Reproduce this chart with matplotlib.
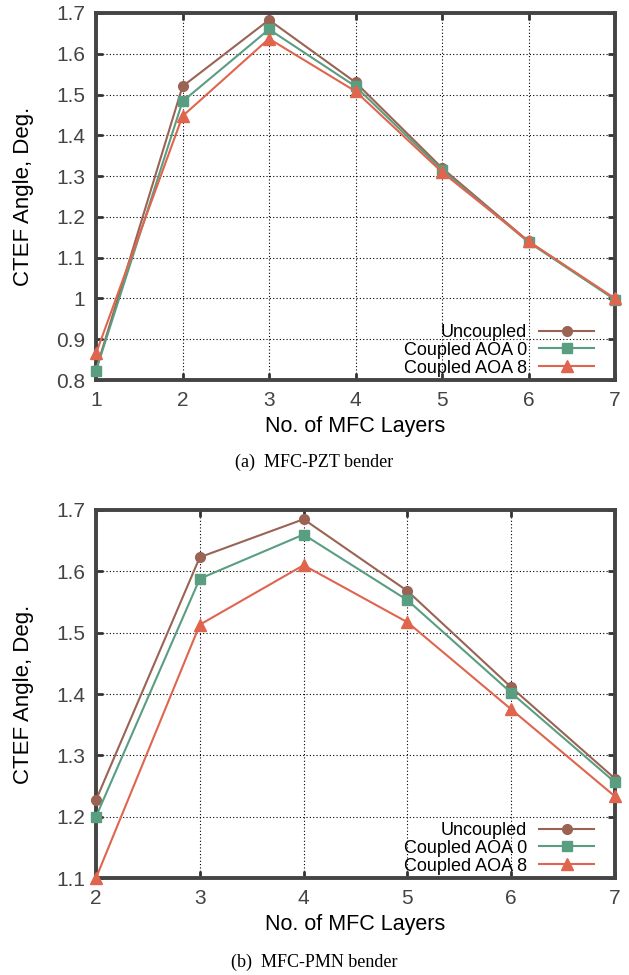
import matplotlib
matplotlib.use("Agg")
import matplotlib.pyplot as plt

layers_a = [1, 2, 3, 4, 5, 6, 7]
uncoupled_a = [0.825, 1.520, 1.683, 1.530, 1.320, 1.140, 0.998]
aoa0_a = [0.823, 1.483, 1.660, 1.520, 1.315, 1.138, 0.997]
aoa8_a = [0.865, 1.447, 1.637, 1.508, 1.310, 1.140, 1.000]

layers_b = [2, 3, 4, 5, 6, 7]
uncoupled_b = [1.227, 1.623, 1.685, 1.568, 1.411, 1.262]
aoa0_b = [1.200, 1.588, 1.660, 1.553, 1.402, 1.256]
aoa8_b = [1.100, 1.513, 1.610, 1.517, 1.375, 1.233]

labels = ["Uncoupled", "Coupled AOA 0", "Coupled AOA 8"]
colors = ["#9a6354", "#5a9e82", "#e0654e"]
markers = ["o", "s", "^"]

yticks_a = [0.8, 0.9, 1.0, 1.1, 1.2, 1.3, 1.4, 1.5, 1.6, 1.7]
ytick_labels_a = ["0.8", "0.9", "1", "1.1", "1.2", "1.3", "1.4", "1.5", "1.6", "1.7"]
yticks_b = [1.1, 1.2, 1.3, 1.4, 1.5, 1.6, 1.7]
ytick_labels_b = ["1.1", "1.2", "1.3", "1.4", "1.5", "1.6", "1.7"]

captions = ["(a)  MFC-PZT bender", "(b)  MFC-PMN bender"]

plt.rcParams['font.family'] = ['Liberation Sans', 'DejaVu Sans']

fig = plt.figure(figsize=(6.29, 9.75), dpi=100)
axA = fig.add_axes([96/629, 1-380/975, 519/629, 367/975])
axB = fig.add_axes([96/629, 1-878/975, 519/629, 368/975])

panels = [
    (axA, layers_a, [uncoupled_a, aoa0_a, aoa8_a], yticks_a, ytick_labels_a, (0.8, 1.7), 462),
    (axB, layers_b, [uncoupled_b, aoa0_b, aoa8_b], yticks_b, ytick_labels_b, (1.1, 1.7), 962),
]

for i, (ax, xs, series, yt, ytl, ylim, capy) in enumerate(panels):
    for ys, lab, c, m in zip(series, labels, colors, markers):
        ms = 7 if m != "^" else 9
        ax.plot(xs, ys, color=c, marker=m, markersize=ms, linewidth=1.5,
                label=lab, clip_on=False, zorder=3)
    ax.set_xlim(xs[0], xs[-1])
    ax.set_ylim(*ylim)
    ax.set_xticks(xs)
    ax.set_xticklabels([str(x) for x in xs])
    ax.set_yticks(yt)
    ax.set_yticklabels(ytl)
    ax.grid(True, color="black", linestyle=(0, (1, 2)), linewidth=0.8)
    for s in ax.spines.values():
        s.set_linewidth(2.8)
        s.set_color("#444444")
    ax.tick_params(direction="in", length=5, width=2, color="#333333",
                   labelsize=15, labelcolor="#444444", top=True, right=True, pad=8)
    ax.set_xlabel("No. of MFC Layers", fontsize=15.5, labelpad=4)
    ax.set_ylabel("CTEF Angle, Deg.", fontsize=16, labelpad=16)
    leg = ax.legend(loc="lower right", frameon=False, markerfirst=False,
                    fontsize=13, handlelength=3.0, handletextpad=0.7,
                    labelspacing=0.05, borderaxespad=0.15,
                    bbox_to_anchor=(0.978, -0.018))
    for t in leg.get_texts():
        t.set_ha("right")
    fig.text(0.5, 1 - capy/975, captions[i], ha="center", va="center",
             fontsize=13, family="Liberation Serif")

fig.savefig("out.png", dpi=100)
